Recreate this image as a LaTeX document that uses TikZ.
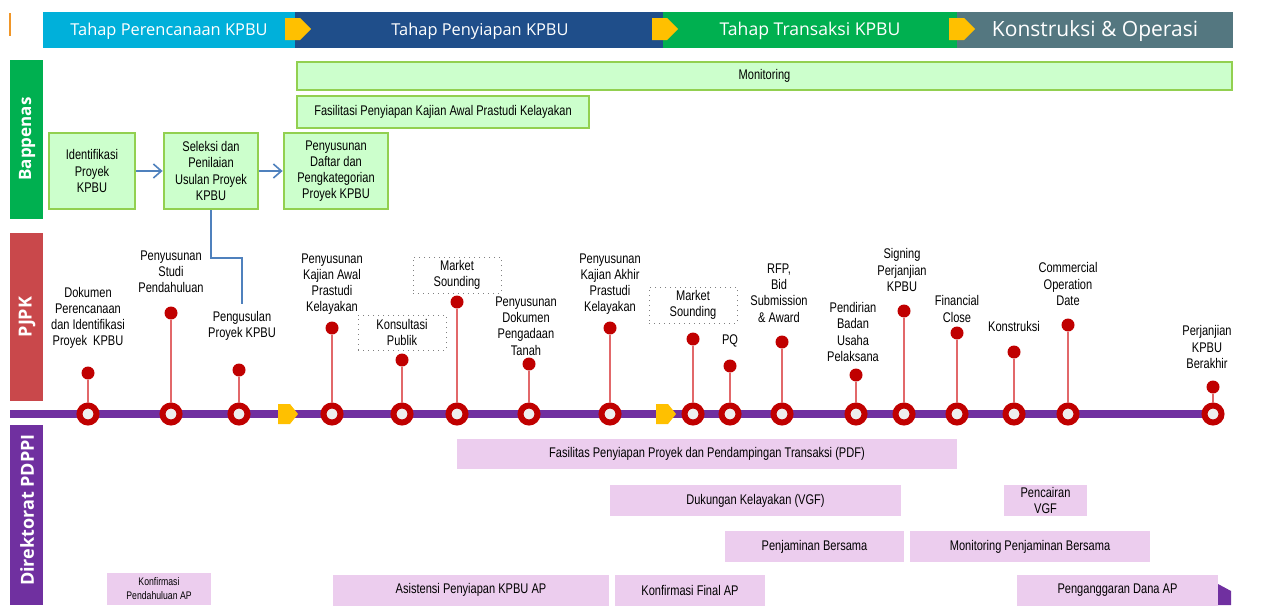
\documentclass[tikz,border=0pt]{standalone}
\usepackage{fontspec}
\setmainfont{Liberation Sans}[FakeStretch=0.79]
\newfontfamily\hdrfont{Open Sans}
\usetikzlibrary{arrows.meta}

\definecolor{hdrblue}{RGB}{0,176,218}
\definecolor{hdrnavy}{RGB}{31,78,138}
\definecolor{hdrgreen}{RGB}{0,176,80}
\definecolor{hdrgrey}{RGB}{84,119,128}
\definecolor{arrowyel}{RGB}{255,192,0}
\definecolor{pjpkred}{RGB}{201,72,75}
\definecolor{pdppi}{RGB}{112,48,160}
\definecolor{boxfill}{RGB}{204,255,204}
\definecolor{boxline}{RGB}{146,208,80}
\definecolor{ringred}{RGB}{192,0,0}
\definecolor{ringfill}{RGB}{238,238,238}
\definecolor{stemred}{RGB}{226,104,106}
\definecolor{pinkbox}{RGB}{236,205,238}
\definecolor{flowblue}{RGB}{79,129,189}
\definecolor{markorange}{RGB}{240,150,40}

\tikzset{
  lbl/.style={align=center, inner sep=0pt, font=\fontsize{7}{8.1}\selectfont},
  hdrtxt/.style={text=white, inner sep=0pt, font=\hdrfont\fontsize{8.2}{10}\selectfont},
  band/.style={text=white, rotate=90, inner sep=0pt, font=\hdrfont\bfseries\fontsize{9}{10}\selectfont},
  gbox/.style={lbl, draw=boxline, fill=boxfill, line width=1.4pt},
  pbox/.style={lbl, fill=pinkbox},
  dbox/.style={lbl, draw=gray, dotted, line width=0.5pt, fill=white,
    minimum width=44pt, minimum height=18pt},
  ring/.style={circle, draw=ringred, line width=3pt, fill=ringfill,
    minimum size=8.5pt, inner sep=0pt},
  dot/.style={circle, fill=ringred, minimum size=6.5pt, inner sep=0pt},
  stem/.style={stemred, line width=1pt},
  flow/.style={flowblue, line width=0.8pt}
}

\begin{document}
\begin{tikzpicture}[x=0.5pt, y=-0.5pt]
    \useasboundingbox (0,0) rectangle (1262,605);
    \fill[white] (0,0) rectangle (1262,605);

    % tahap header
    \draw[markorange, line width=1pt] (10,13) -- (10,36);
    \fill[hdrblue] (43,12) rectangle (295,48);
    \fill[hdrnavy] (295,12) rectangle (663,48);
    \fill[hdrgreen] (663,12) rectangle (957,48);
    \fill[hdrgrey] (957,12) rectangle (1233,48);
    \fill[arrowyel] (285,18) -- (300,18) -- (311,29) -- (300,40) -- (285,40) -- cycle;
    \fill[arrowyel] (652,18) -- (667,18) -- (678,29) -- (667,40) -- (652,40) -- cycle;
    \fill[arrowyel] (949,18) -- (964,18) -- (975,29) -- (964,40) -- (949,40) -- cycle;
    \node[hdrtxt] (perencanaan) at (169,31) {Tahap Perencanaan KPBU};
    \node[hdrtxt] (penyiapan) at (480,31) {Tahap Penyiapan KPBU};
    \node[hdrtxt, font=\hdrfont\fontsize{8.8}{10}\selectfont] (transaksi) at (810,31) {Tahap Transaksi KPBU};
    \node[hdrtxt, font=\hdrfont\fontsize{10.5}{12}\selectfont] (konstruksi) at (1095,31) {Konstruksi \& Operasi};

    % pelaku
    \fill[hdrgreen] (10,60) rectangle (43,219);
    \fill[pjpkred] (10,233) rectangle (43,401);
    \fill[pdppi] (10,425) rectangle (43,605);
    \node[band, font=\hdrfont\bfseries\fontsize{8.5}{10}\selectfont] (bappenas) at (27,139) {Bappenas};
    \node[band] (pjpk) at (27,317) {PJPK};
    \node[band] (pdppilbl) at (27,510) {Direktorat PDPPI};

    % bappenas
    \node[gbox, minimum width=467.5pt, minimum height=14pt] (monitoring) at (764.5,76) {Monitoring};
    \node[gbox, minimum width=146pt, minimum height=16pt] (fasilitasi) at (443,112) {Fasilitasi Penyiapan Kajian Awal Prastudi Kelayakan};
    \node[gbox, minimum width=43pt, minimum height=38pt] (ident) at (92,171) {Identifikasi\\Proyek\\KPBU};
    \node[gbox, minimum width=47pt, minimum height=38pt] (seleksi) at (211,171) {Seleksi dan\\Penilaian\\Usulan Proyek\\KPBU};
    \node[gbox, minimum width=52pt, minimum height=38pt] (daftar) at (336,171) {Penyusunan\\Daftar dan\\Pengkategorian\\Proyek KPBU};
    \draw[flow, -{Straight Barb[length=4pt, width=7pt]}] (ident) -- (seleksi);
    \draw[flow, -{Straight Barb[length=4pt, width=7pt]}] (seleksi) -- (daftar);
    \coordinate (usulend) at (242,304);
    \draw[flow] (seleksi.south) |- (226,258) -| (usulend);

    % timeline
    \coordinate (tlstart) at (10,414);
    \coordinate (tlend) at (1213,414);
    \draw[pdppi, line width=4pt] (tlstart) -- (tlend);
    \fill[arrowyel] (278,404) -- (290,404) -- (298,414) -- (290,424) -- (278,424) -- cycle;
    \fill[arrowyel] (656,404) -- (668,404) -- (676,414) -- (668,424) -- (656,424) -- cycle;

    \node[ring] (r1) at (88,414) {};
    \node[ring] (r2) at (171,414) {};
    \node[ring] (r3) at (239,414) {};
    \node[ring] (r4) at (332,414) {};
    \node[ring] (r5) at (402,414) {};
    \node[ring] (r6) at (457,414) {};
    \node[ring] (r7) at (529,414) {};
    \node[ring] (r8) at (610,414) {};
    \node[ring] (r9) at (693,414) {};
    \node[ring] (r10) at (730,414) {};
    \node[ring] (r11) at (782,414) {};
    \node[ring] (r12) at (856,414) {};
    \node[ring] (r13) at (904,414) {};
    \node[ring] (r14) at (957,414) {};
    \node[ring] (r15) at (1014,414) {};
    \node[ring] (r16) at (1068,414) {};
    \node[ring] (r17) at (1213,414) {};

    \node[dot] (d1) at (88,373) {};
    \node[dot] (d2) at (171,313) {};
    \node[dot] (d3) at (239,370) {};
    \node[dot] (d4) at (332,328) {};
    \node[dot] (d5) at (402,360) {};
    \node[dot] (d6) at (457,302) {};
    \node[dot] (d7) at (529,364) {};
    \node[dot] (d8) at (610,328) {};
    \node[dot] (d9) at (693,339) {};
    \node[dot] (d10) at (730,366) {};
    \node[dot] (d11) at (782,342) {};
    \node[dot] (d12) at (856,375) {};
    \node[dot] (d13) at (904,311) {};
    \node[dot] (d14) at (957,333) {};
    \node[dot] (d15) at (1014,352) {};
    \node[dot] (d16) at (1068,325) {};
    \node[dot] (d17) at (1213,387) {};

    \draw[stem] (r1) -- (d1);
    \draw[stem] (r2) -- (d2);
    \draw[stem] (r3) -- (d3);
    \draw[stem] (r4) -- (d4);
    \draw[stem] (r5) -- (d5);
    \draw[stem] (r6) -- (d6);
    \draw[stem] (r7) -- (d7);
    \draw[stem] (r8) -- (d8);
    \draw[stem] (r9) -- (d9);
    \draw[stem] (r10) -- (d10);
    \draw[stem] (r11) -- (d11);
    \draw[stem] (r12) -- (d12);
    \draw[stem] (r13) -- (d13);
    \draw[stem] (r14) -- (d14);
    \draw[stem] (r15) -- (d15);
    \draw[stem] (r16) -- (d16);
    \draw[stem] (r17) -- (d17);

    % pjpk labels
    \node[lbl] (l1) at (88,318) {Dokumen\\Perencanaan\\dan Identifikasi\\Proyek~~KPBU};
    \node[lbl] (l2) at (171,272) {Penyusunan\\Studi\\Pendahuluan};
    \node[lbl] (l3) at (242,326) {Pengusulan\\Proyek KPBU};
    \node[lbl] (l4) at (332,284) {Penyusunan\\Kajian Awal\\Prastudi\\Kelayakan};
    \node[dbox, minimum height=17.5pt] (l5) at (402,332.5) {Konsultasi\\Publik};
    \node[dbox] (l6) at (457,275) {Market\\Sounding};
    \node[lbl] (l7) at (526,326) {Penyusunan\\Dokumen\\Pengadaan\\Tanah};
    \node[lbl] (l8) at (610,284) {Penyusunan\\Kajian Akhir\\Prastudi\\Kelayakan};
    \node[dbox] (l9) at (693,305) {Market\\Sounding};
    \node[lbl] (l10) at (730,341) {PQ};
    \node[lbl] (l11) at (779,293) {RFP,\\Bid\\Submission\\\& Award};
    \node[lbl] (l12) at (853,332) {Pendirian\\Badan\\Usaha\\Pelaksana};
    \node[lbl] (l13) at (902,270) {Signing\\Perjanjian\\KPBU};
    \node[lbl] (l14) at (957,309) {Financial\\Close};
    \node[lbl] (l15) at (1014,326) {Konstruksi};
    \node[lbl] (l16) at (1068,284) {Commercial\\Operation\\Date};
    \node[lbl] (l17) at (1207,347) {Perjanjian\\KPBU\\Berakhir};

    % direktorat pdppi
    \node[pbox, minimum width=250pt, minimum height=15pt] (pdf) at (707,454) {Fasilitas Penyiapan Proyek dan Pendampingan Transaksi (PDF)};
    \node[pbox, minimum width=145.5pt, minimum height=15.5pt] (vgf) at (755.5,500.5) {Dukungan Kelayakan (VGF)};
    \node[pbox, minimum width=41.5pt, minimum height=15.5pt] (cair) at (1045.5,500.5) {Pencairan\\VGF};
    \node[pbox, minimum width=89.5pt, minimum height=15.5pt] (jamin) at (814.5,546.5) {Penjaminan Bersama};
    \node[pbox, minimum width=120pt, minimum height=15.5pt] (monjamin) at (1030,546.5) {Monitoring Penjaminan Bersama};
    \node[pbox, minimum width=52pt, minimum height=16pt, font=\fontsize{5.5}{7}\selectfont] (konfpend) at (159,589) {Konfirmasi\\Pendahuluan AP};
    \node[pbox, minimum width=138pt, minimum height=15.5pt] (asistensi) at (471,590) {Asistensi Penyiapan KPBU AP};
    \node[pbox, minimum width=75pt, minimum height=15.5pt] (konffinal) at (690,590) {Konfirmasi Final AP};
    \node[pbox, minimum width=100.5pt, minimum height=15.5pt] (anggaran) at (1117.5,590) {Penganggaran Dana AP};
    \fill[pdppi] (1218,584) -- (1231,591) -- (1231,605) -- (1218,605) -- cycle;
\end{tikzpicture}
\end{document}
